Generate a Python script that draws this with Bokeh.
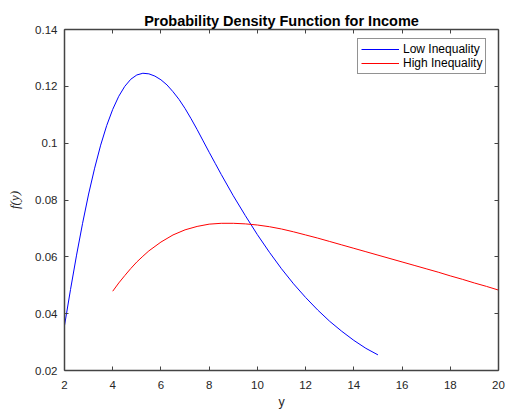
from bokeh.plotting import figure
from bokeh.models import Range1d, LinearAxis, FixedTicker, Legend, LegendItem
from bokeh.embed import file_html
from bokeh.resources import INLINE

# Low inequality density
low_x = [2.0, 2.25, 2.5, 2.75, 3.0, 3.25, 3.5, 3.75, 4.0, 4.25, 4.5, 4.75,
         5.0, 5.25, 5.5, 5.75, 6.0, 6.25, 6.5, 6.75, 7.0, 7.25, 7.5, 7.75,
         8.0, 8.25, 8.5, 9.0, 9.5, 10.0, 10.5, 11.0, 11.5, 12.0, 12.5, 13.0,
         13.5, 14.0, 14.5, 15.0]
low_y = [0.0358, 0.0485, 0.0606, 0.0718, 0.0821, 0.0912, 0.0993, 0.1062,
         0.1119, 0.1165, 0.1200, 0.1225, 0.1240, 0.1246, 0.1244, 0.1236,
         0.1223, 0.1205, 0.1181, 0.1154, 0.1122, 0.1086, 0.1048, 0.1008,
         0.0968, 0.0929, 0.0890, 0.0815, 0.0745, 0.0678, 0.0616, 0.0558,
         0.0505, 0.0457, 0.0413, 0.0373, 0.0338, 0.0306, 0.0278, 0.0255]

# High inequality density
high_x = [4.0, 4.25, 4.5, 4.75, 5.0, 5.25, 5.5, 6.0, 6.5, 7.0, 7.5, 8.0, 8.5,
          9.0, 9.5, 10.0, 10.5, 11.0, 11.5, 12.0, 12.5, 13.0, 13.5, 14.0,
          14.5, 15.0, 15.5, 16.0, 16.5, 17.0, 17.5, 18.0, 18.5, 19.0, 19.5,
          20.0]
high_y = [0.0479, 0.0508, 0.0534, 0.0559, 0.0582, 0.0602, 0.0621, 0.0652,
          0.0677, 0.0695, 0.0707, 0.0715, 0.0718, 0.0718, 0.0716, 0.0712,
          0.0706, 0.0698, 0.0688, 0.0677, 0.0666, 0.0654, 0.0642, 0.0630,
          0.0618, 0.0606, 0.0594, 0.0582, 0.0570, 0.0558, 0.0546, 0.0533,
          0.0521, 0.0508, 0.0496, 0.0483]

x_ticks = [2, 4, 6, 8, 10, 12, 14, 16, 18, 20]
y_ticks = [0.02, 0.04, 0.06, 0.08, 0.1, 0.12, 0.14]
y_tick_labels = ["0.02", "0.04", "0.06", "0.08", "0.1", "0.12", "0.14"]

AX = "#262626"
AXLINE = "#444444"
FONT = "Liberation Sans"

p = figure(width=506, height=412, output_backend="svg", toolbar_location=None,
           x_range=Range1d(2, 20), y_range=Range1d(0.02, 0.14),
           min_border_left=64, min_border_right=8, min_border_top=29,
           min_border_bottom=42, title="Probability Density Function for Income",
           x_axis_label="y", y_axis_label="f(y)")
p.background_fill_color = "white"
p.border_fill_color = "white"
p.outline_line_color = None
p.xgrid.visible = False
p.ygrid.visible = False

p.title.align = "center"
p.title.text_font = FONT
p.title.text_font_size = "14.5px"
p.title.text_font_style = "bold"
p.title.text_color = "black"
p.title.standoff = 2

xb = p.xaxis[0]
yl = p.yaxis[0]

top = LinearAxis()
right = LinearAxis()
p.add_layout(top, "above")
p.add_layout(right, "right")

for ax in [xb, top]:
    ax.ticker = FixedTicker(ticks=x_ticks)
for ax in [yl, right]:
    ax.ticker = FixedTicker(ticks=y_ticks)
    ax.major_label_overrides = {t: s for t, s in zip(y_ticks, y_tick_labels)}

for ax in [xb, yl, top, right]:
    ax.axis_line_color = AXLINE
    ax.axis_line_width = 1.5
    ax.major_tick_line_color = AXLINE
    ax.major_tick_line_width = 1
    ax.major_tick_in = 4
    ax.major_tick_out = 0
    ax.minor_tick_line_color = None
    ax.major_label_text_font = FONT
    ax.major_label_text_font_size = "11.5px"
    ax.major_label_text_color = AX

for ax in [top, right]:
    ax.major_label_text_font_size = "0px"
    ax.major_label_text_color = None
    ax.major_label_standoff = 0

xb.major_label_standoff = 10
yl.major_label_standoff = 7
xb.axis_label_text_font = FONT
xb.axis_label_text_font_size = "12.5px"
xb.axis_label_text_font_style = "normal"
xb.axis_label_text_color = AX
xb.axis_label_standoff = 3
yl.axis_label_text_font = "Liberation Serif"
yl.axis_label_text_font_size = "13px"
yl.axis_label_text_font_style = "italic"
yl.axis_label_text_color = AX
yl.axis_label_standoff = 10

r_low = p.line(low_x, low_y, line_color="#0000FF", line_width=1)
r_high = p.line(high_x, high_y, line_color="#FF0000", line_width=1)

legend = Legend(items=[LegendItem(label="Low Inequality", renderers=[r_low]),
                       LegendItem(label="High Inequality", renderers=[r_high])],
                location=(293, 296))
legend.margin = 0
legend.padding = 3
legend.spacing = 0
legend.glyph_width = 38
legend.glyph_height = 14
legend.label_height = 14
legend.label_standoff = 4
legend.label_text_font = FONT
legend.label_text_font_size = "12px"
legend.label_text_color = "black"
legend.border_line_color = AX
legend.border_line_width = 1
legend.background_fill_color = "white"
legend.background_fill_alpha = 1
p.add_layout(legend, "center")

open("out.html", "w").write(file_html(p, INLINE))
